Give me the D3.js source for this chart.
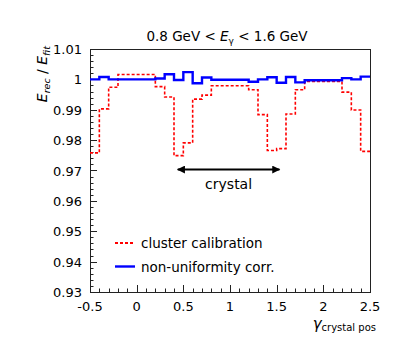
<!DOCTYPE html>
<meta charset="utf-8">
<title>Erec / Efit</title>
<script src="https://d3js.org/d3.v7.min.js"></script>
<style>
  body { margin: 0; background: #fff; }
  text { font-family: "DejaVu Sans", sans-serif; fill: #000; }
</style>
<div id="chart"></div>
<script>
// bin lower edges (width 0.1) from -0.5 to 2.4
var binEdges = [-0.5,-0.4,-0.3,-0.2,-0.1,0.0,0.1,0.2,0.3,0.4,0.5,0.6,0.7,0.8,0.9,
                1.0,1.1,1.2,1.3,1.4,1.5,1.6,1.7,1.8,1.9,2.0,2.1,2.2,2.3,2.4];
var clusterCalib = [0.9758,0.9903,0.9974,1.0016,1.0016,1.0016,1.0016,0.9976,0.9942,0.9749,
                    0.9791,0.9935,0.9948,0.9979,0.9979,0.9979,0.9979,0.9966,0.9884,0.9766,
                    0.9772,0.9886,0.9966,0.9993,0.9993,0.9993,0.9993,0.9958,0.9899,0.9763];
var nonUniform = [1.0000,1.0008,1.0000,1.0000,1.0000,1.0000,1.0000,1.0003,1.0017,0.9998,
                  1.0024,0.9987,1.0006,0.9999,0.9999,0.9999,0.9999,0.9992,1.0000,1.0007,
                  0.9989,1.0008,0.9990,0.9997,0.9997,0.9997,0.9997,1.0004,1.0000,1.0009];
var xTicks = [-0.5,0,0.5,1,1.5,2,2.5];
var yTicks = [0.93,0.94,0.95,0.96,0.97,0.98,0.99,1.0,1.01];
var legendNames = ["cluster calibration","non-uniformity corr."];

var W = 415, H = 363;
var pL = 90, pR = 370, pT = 49, pB = 292;

var svg = d3.select("#chart").append("svg")
  .attr("width", W).attr("height", H);

var x = d3.scaleLinear().domain([-0.5, 2.5]).range([pL, pR]);
var y = d3.scaleLinear().domain([0.93, 1.01]).range([pB, pT]);

// frame
svg.append("rect")
  .attr("x", pL + 0.5).attr("y", pT + 0.5)
  .attr("width", pR - pL).attr("height", pB - pT)
  .attr("fill", "none").attr("stroke", "#222").attr("stroke-width", 1);

// bottom ticks (inside)
var xMinor = d3.range(0, 31).map(function(i) { return -0.5 + i * 0.1; });
svg.append("g").selectAll("line").data(xMinor).enter().append("line")
  .attr("x1", function(d) { return Math.round(x(d)) + 0.5; })
  .attr("x2", function(d) { return Math.round(x(d)) + 0.5; })
  .attr("y1", pB)
  .attr("y2", function(d, i) { return i % 5 == 0 ? pB - 7 : pB - 3.5; })
  .attr("stroke", "#222");

// left ticks (inside)
var yMinor = d3.range(0, 41).map(function(i) { return 0.93 + i * 0.002; });
svg.append("g").selectAll("line").data(yMinor).enter().append("line")
  .attr("y1", function(d) { return Math.round(y(d)) + 0.5; })
  .attr("y2", function(d) { return Math.round(y(d)) + 0.5; })
  .attr("x1", pL)
  .attr("x2", function(d, i) { return i % 5 == 0 ? pL + 7 : pL + 3.5; })
  .attr("stroke", "#222");

svg.append("g").selectAll("text").data(xTicks).enter().append("text")
  .attr("x", function(d) { return x(d); })
  .attr("y", pB + 19)
  .attr("text-anchor", "middle")
  .style("font-size", "13px")
  .text(function(d) { return d; });

svg.append("g").selectAll("text").data(yTicks).enter().append("text")
  .attr("x", pL - 8)
  .attr("y", function(d) { return y(d) + 5; })
  .attr("text-anchor", "end")
  .style("font-size", "13px")
  .text(function(d) { return d == 1 ? "1" : d3.format(".2f")(d); });

// step lines
function stepData(vals) {
  var pts = binEdges.map(function(e, i) { return [e, vals[i]]; });
  pts.push([2.5, vals[vals.length - 1]]);
  return pts;
}
var line = d3.line()
  .x(function(d) { return x(d[0]); })
  .y(function(d) { return y(d[1]); })
  .curve(d3.curveStepAfter);

svg.append("path").datum(stepData(clusterCalib))
  .attr("d", line).attr("fill", "none")
  .attr("stroke", "#ff0000").attr("stroke-width", 1.6)
  .attr("stroke-dasharray", "3,2");

svg.append("path").datum(stepData(nonUniform))
  .attr("d", line).attr("fill", "none")
  .attr("stroke", "#0000ff").attr("stroke-width", 2.4);

// arrow marking one crystal
var defs = svg.append("defs");
defs.append("marker").attr("id", "ah")
  .attr("viewBox", "0 0 10 10").attr("refX", 9).attr("refY", 5)
  .attr("markerWidth", 11).attr("markerHeight", 8)
  .attr("markerUnits", "userSpaceOnUse")
  .attr("orient", "auto-start-reverse")
  .append("path").attr("d", "M0,0 L10,5 L0,10 Z").attr("fill", "#000");

svg.append("line")
  .attr("x1", x(0.44)).attr("x2", x(1.53))
  .attr("y1", y(0.9703)).attr("y2", y(0.9703))
  .attr("stroke", "#000").attr("stroke-width", 2)
  .attr("marker-start", "url(#ah)").attr("marker-end", "url(#ah)");

svg.append("text")
  .attr("x", x(0.985)).attr("y", y(0.9703) + 19)
  .attr("text-anchor", "middle").style("font-size", "14px")
  .text("crystal");

// legend
var leg = svg.append("g");
leg.append("line").attr("x1", 115).attr("x2", 135).attr("y1", 243).attr("y2", 243)
  .attr("stroke", "#ff0000").attr("stroke-width", 1.8).attr("stroke-dasharray", "3,2");
leg.append("line").attr("x1", 115).attr("x2", 135).attr("y1", 266.5).attr("y2", 266.5)
  .attr("stroke", "#0000ff").attr("stroke-width", 2.4);
leg.selectAll("text").data(legendNames).enter().append("text")
  .attr("x", 141).attr("y", function(d, i) { return 248 + i * 23.5; })
  .style("font-size", "13.5px")
  .text(function(d) { return d; });

// title
var t = svg.append("text").attr("x", 227).attr("y", 41)
  .attr("text-anchor", "middle").style("font-size", "13.5px");
t.append("tspan").text("0.8 GeV < ");
t.append("tspan").style("font-style", "italic").text("E");
t.append("tspan").attr("dy", 3).style("font-size", "9px").text("γ");
t.append("tspan").attr("dy", -3).text(" < 1.6 GeV");

// y axis label
var yl = svg.append("text")
  .attr("transform", "translate(47,46) rotate(-90)")
  .attr("text-anchor", "end").style("font-size", "14px");
yl.append("tspan").style("font-style", "italic").text("E");
yl.append("tspan").attr("dy", 3).style("font-size", "9.5px").style("font-style", "italic").text("rec");
yl.append("tspan").attr("dy", -3).text(" / ");
yl.append("tspan").style("font-style", "italic").text("E");
yl.append("tspan").attr("dy", 3).style("font-size", "9.5px").style("font-style", "italic").text("fit");

// x axis label
var xl = svg.append("text").attr("x", 376).attr("y", 329)
  .attr("text-anchor", "end").style("font-size", "15px");
xl.append("tspan").style("font-style", "italic").text("γ");
xl.append("tspan").attr("dy", 2).style("font-size", "10px").text("crystal pos");
</script>
